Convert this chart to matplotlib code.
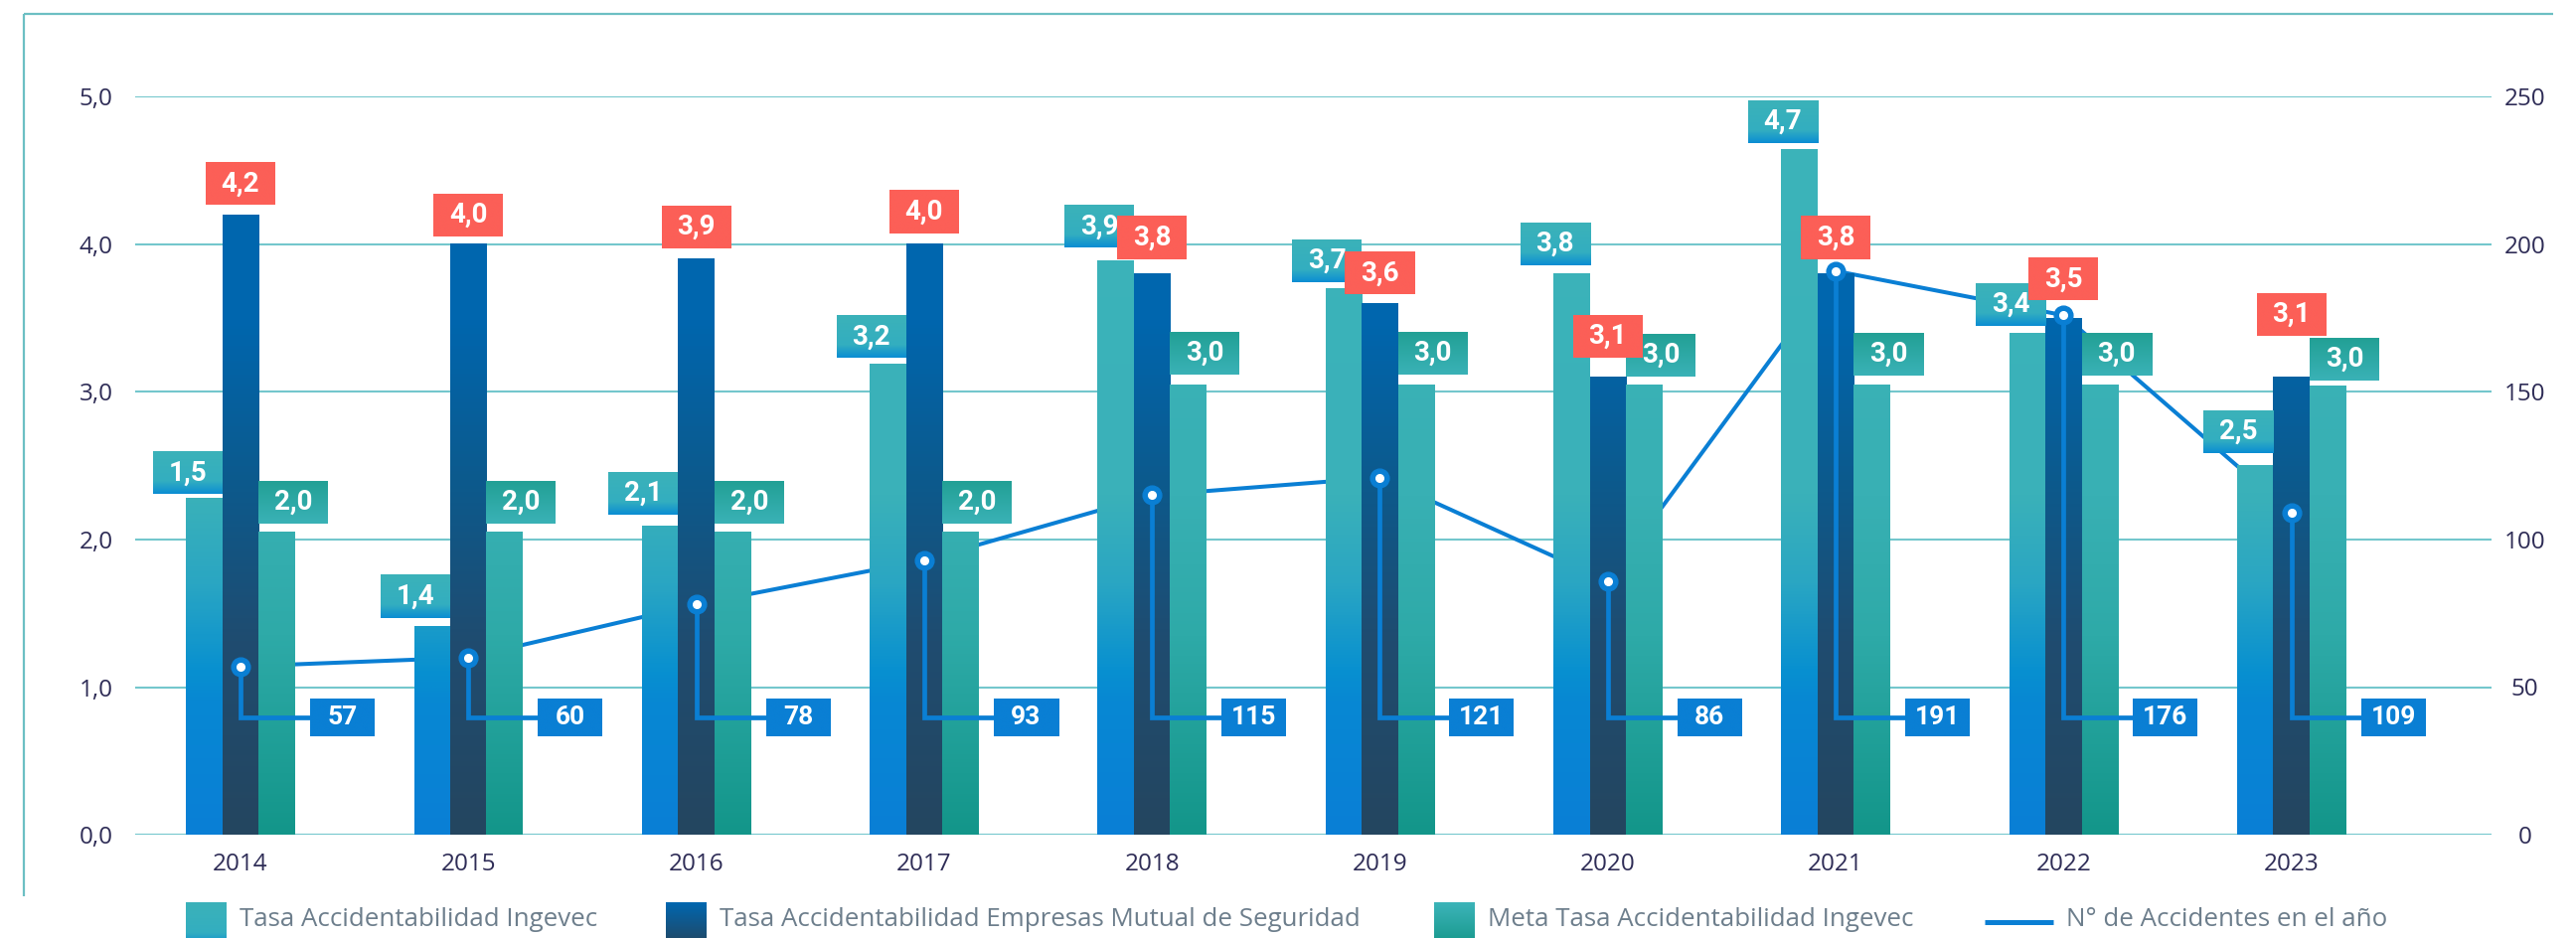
import numpy as np
import matplotlib
matplotlib.use("Agg")
import matplotlib.pyplot as plt
from matplotlib.colors import LinearSegmentedColormap, Normalize

# data
years = ["2014", "2015", "2016", "2017", "2018", "2019", "2020", "2021", "2022", "2023"]
ingevec_bar = [2.28, 1.41, 2.09, 3.19, 3.89, 3.70, 3.80, 4.64, 3.40, 2.50]
ingevec_lbl = ["1,5", "1,4", "2,1", "3,2", "3,9", "3,7", "3,8", "4,7", "3,4", "2,5"]
mutual_bar = [4.2, 4.0, 3.9, 4.0, 3.8, 3.6, 3.1, 3.8, 3.5, 3.1]
mutual_lbl = ["4,2", "4,0", "3,9", "4,0", "3,8", "3,6", "3,1", "3,8", "3,5", "3,1"]
meta_bar = [2.05, 2.05, 2.05, 2.05, 3.05, 3.05, 3.05, 3.05, 3.05, 3.04]
meta_lbl = ["2,0", "2,0", "2,0", "2,0", "3,0", "3,0", "3,0", "3,0", "3,0", "3,0"]
accidents = [57, 60, 78, 93, 115, 121, 86, 191, 176, 109]

left_ticks = [0, 1, 2, 3, 4, 5]
left_ticklabels = ["0,0", "1,0", "2,0", "3,0", "4,0", "5,0"]
right_ticks = [0, 50, 100, 150, 200, 250]

legend_labels = ["Tasa Accidentabilidad Ingevec",
                 "Tasa Accidentabilidad Empresas Mutual de Seguridad",
                 "Meta Tasa Accidentabilidad Ingevec",
                 "N° de Accidentes en el año"]

# small per-label nudges (pixels above the bar top), as placed in the original
lift_ing = [4, 9, 12, 6, 13, 7, 9, 7, 7, 13]
lift_mut = [10, 8, 11, 11, 15, 9, 20, 15, 18, 42]
lift_meta = [9, 9, 9, 9, 10, 10, 8, 9, 9, 6]

W, H = 2592, 944
BLUE = "#0a7fd4"
RED = "#fc5f57"
GRID = "#74c7cd"
TICK_C = "#2e2c56"
LEG_C = "#6d7e8c"
NUM_FONT = ["Roboto", "DejaVu Sans"]
TXT_FONT = ["Open Sans", "DejaVu Sans"]

# gradients (absolute in y for bars, 0..5)
cm_ing = LinearSegmentedColormap.from_list("ing", [(0, "#0a7fd6"), (0.18, "#0788d3"), (0.22, "#0890d0"),
                                                   (0.34, "#2aa6c3"), (0.46, "#3ab1b9"), (1, "#3cb4ba")])
cm_mut = LinearSegmentedColormap.from_list("mut", [(0, "#244660"), (0.26, "#1f4c70"), (0.48, "#0c5a8d"),
                                                   (0.7, "#0066ae"), (1, "#0067b0")])
cm_meta = LinearSegmentedColormap.from_list("meta", [(0, "#13968a"), (0.27, "#2eaaa8"), (0.46, "#38b0b4"),
                                                     (1, "#3db4ba")])
cm_ing_box = LinearSegmentedColormap.from_list("ingb", [(0, "#0a8dd3"), (0.3, "#33aec0"), (1, "#3bb2b9")])
cm_meta_box = LinearSegmentedColormap.from_list("metab", [(0, "#3ab2b7"), (1, "#22a095")])
cm_red = LinearSegmentedColormap.from_list("red", [RED, RED])
cm_blue = LinearSegmentedColormap.from_list("blue", [BLUE, BLUE])

fig = plt.figure(figsize=(W / 100, H / 100), dpi=100)
ax = fig.add_axes([136 / W, 104 / H, 2371 / W, 742.5 / H])
ax.set_xlim(-0.462, 9.878)
ax.set_ylim(0, 5)
ax2 = ax.twinx()
ax2.set_ylim(0, 250)

for a in (ax, ax2):
    for s in a.spines.values():
        s.set_visible(False)
    a.tick_params(length=0)

ax.set_yticks(left_ticks)
ax.set_yticklabels(left_ticklabels, fontsize=17.5, color=TICK_C, family=TXT_FONT)
ax.tick_params(axis="y", pad=16)
ax2.set_yticks(right_ticks)
ax2.set_yticklabels([str(t) for t in right_ticks], fontsize=17.5, color=TICK_C, family=TXT_FONT)
for lab in ax2.get_yticklabels():
    lab.set_ha("center")
ax2.tick_params(axis="y", pad=24)
x = np.arange(len(years))
ax.set_xticks(x)
ax.set_xticklabels(years, fontsize=17.5, color=TICK_C, family=TXT_FONT)
ax.tick_params(axis="x", pad=13)
ax.yaxis.grid(True, color=GRID, lw=1.5, zorder=0)
ax.set_axisbelow(True)

px_x = ax.transData.transform((1, 0))[0] - ax.transData.transform((0, 0))[0]
px_y = ax.transData.transform((0, 1))[1] - ax.transData.transform((0, 0))[1]


def to_ax(v):
    # right-axis value -> left-axis units
    return ax.transData.inverted().transform(ax2.transData.transform((0, v)))[1]


def grad_rect(a, x0, y0, w, h, cmap, z, lo=0.0, hi=1.0, vmax=1.0):
    a.imshow(np.linspace(lo, hi, 128).reshape(-1, 1), cmap=cmap, norm=Normalize(0, vmax),
             extent=(x0, x0 + w, y0, y0 + h), origin="lower", aspect="auto",
             interpolation="bilinear", zorder=z, clip_on=False)


bw = 0.159
b1 = ax.bar(x - bw, ingevec_bar, bw, zorder=3)
b2 = ax.bar(x, mutual_bar, bw, zorder=3)
b3 = ax.bar(x + bw, meta_bar, bw, zorder=3)
for bars, cm in ((b1, cm_ing), (b2, cm_mut), (b3, cm_meta)):
    for b in bars:
        b.set_visible(False)
        grad_rect(ax, b.get_x(), 0, b.get_width(), b.get_height(), cm, 3, 0, b.get_height(), 5)

# accidents line on the right scale, kept behind the bars
ax.plot(x, accidents, color=BLUE, lw=2.9, transform=ax2.transData, zorder=2,
        solid_joinstyle="round")

box_w, box_h = 70 / px_x, 43 / px_y
for i in range(len(years)):
    # Ingevec label, right aligned to its bar
    b = b1[i]
    x0 = b.get_x() + b.get_width() - box_w
    y0 = b.get_height() + lift_ing[i] / px_y
    grad_rect(ax, x0, y0, box_w, box_h, cm_ing_box, 6)
    ax.text(x0 + box_w / 2, y0 + box_h / 2, ingevec_lbl[i], ha="center", va="center",
            color="white", fontsize=20, fontweight="bold", family=NUM_FONT, zorder=6.5)
    # Meta label, left aligned to its bar
    b = b3[i]
    x0 = b.get_x()
    y0 = b.get_height() + lift_meta[i] / px_y
    grad_rect(ax, x0, y0, box_w, box_h, cm_meta_box, 7)
    ax.text(x0 + box_w / 2, y0 + box_h / 2, meta_lbl[i], ha="center", va="center",
            color="white", fontsize=20, fontweight="bold", family=NUM_FONT, zorder=7.5)
    # Mutual label, centred on its bar
    b = b2[i]
    x0 = b.get_x() + b.get_width() / 2 - box_w / 2
    y0 = b.get_height() + lift_mut[i] / px_y
    grad_rect(ax, x0, y0, box_w, box_h, cm_red, 8)
    ax.text(x0 + box_w / 2, y0 + box_h / 2, mutual_lbl[i], ha="center", va="center",
            color="white", fontsize=20, fontweight="bold", family=NUM_FONT, zorder=8.5)

# connectors, markers and count boxes
conn_y = 0.795
cw, ch = 65 / px_x, 38 / px_y
for i, v in enumerate(accidents):
    yv = to_ax(v)
    bx0 = x[i] + 70 / px_x
    ax.plot([x[i], x[i], bx0], [yv, conn_y, conn_y], color=BLUE, lw=3.4, zorder=10,
            solid_joinstyle="miter", solid_capstyle="butt")
    ax.plot([x[i]], [yv], "o", ms=13.5, color=BLUE, zorder=11)
    ax.plot([x[i]], [yv], "o", ms=5.5, color="white", zorder=12)
    grad_rect(ax, bx0, conn_y - ch / 2, cw, ch, cm_blue, 10)
    ax.text(bx0 + cw / 2, conn_y, str(v), ha="center", va="center", color="white",
            fontsize=19, fontweight="bold", family=NUM_FONT, zorder=10.5)

# frame and legend, drawn in pixel coordinates
lax = fig.add_axes([0, 0, 1, 1])
lax.set_xlim(0, W)
lax.set_ylim(H, 0)
lax.axis("off")
lax.plot([24, 2569], [14, 14], color="#6cbfc3", lw=1.6, solid_capstyle="butt")
lax.plot([24, 24], [14, 902], color="#6cbfc3", lw=1.6, solid_capstyle="butt")

leg_sq_x = [187, 670, 1443]
leg_cms = [cm_ing_box, LinearSegmentedColormap.from_list("lm", ["#244660", "#0067b0"]),
           LinearSegmentedColormap.from_list("lg", ["#16978a", "#3cb4b9"])]
for sx, cm, lab in zip(leg_sq_x, leg_cms, legend_labels[:3]):
    lax.imshow(np.linspace(0, 1, 64).reshape(-1, 1), cmap=cm, extent=(sx, sx + 41, 952, 908),
               origin="lower", aspect="auto", interpolation="bilinear")
    lax.text(sx + 54, 926, lab, ha="left", va="center", fontsize=18.6, color=LEG_C, family=TXT_FONT)
lax.plot([1997, 2066], [928, 928], color=BLUE, lw=3.6, solid_capstyle="butt")
lax.text(2079, 926, legend_labels[3], ha="left", va="center", fontsize=18.6, color=LEG_C, family=TXT_FONT)
lax.set_xlim(0, W)
lax.set_ylim(H, 0)

fig.savefig("out.png", dpi=100)
